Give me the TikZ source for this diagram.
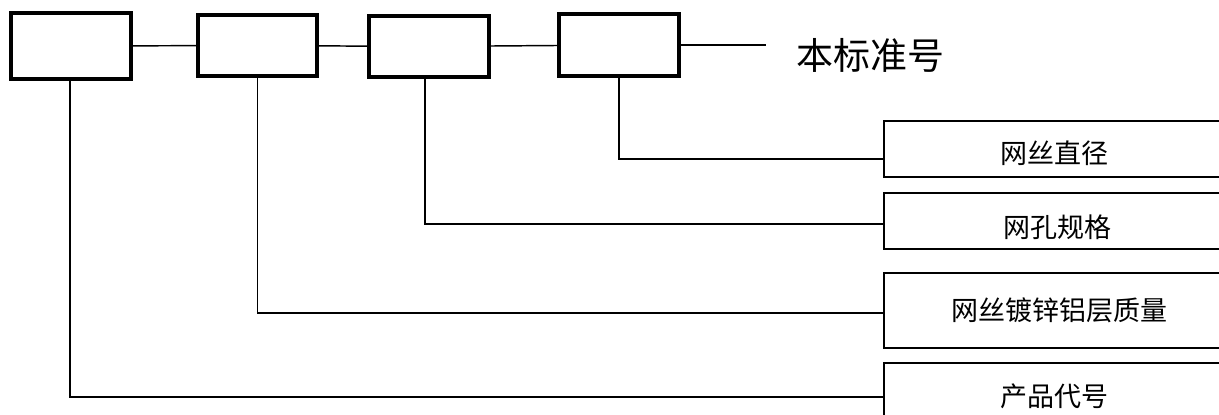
\documentclass[tikz,border=0pt]{standalone}
\usepackage{fontspec}
\newfontfamily\cjk{Noto Sans CJK SC}
\begin{document}
\begin{tikzpicture}[x=0.75pt,y=-0.75pt,
  sbox/.style={draw, line width=2.3pt, minimum width=90pt, inner sep=0pt},
  pbox/.style={draw, line width=2pt, minimum width=256.5pt, inner sep=0pt},
  lbl/.style={font=\cjk\fontsize{20.25pt}{24pt}\selectfont, inner sep=0pt, anchor=base},
  wire/.style={line width=1.1pt}]
\clip (0,0) rectangle (1219,414);
\fill[white] (0,0) rectangle (1219,414);

% code-position boxes along the top
\node[sbox, minimum height=49.5pt] (b1) at (71,46) {};
\node[sbox, minimum height=45.75pt, minimum width=89.25pt] (b2) at (257.5,45.5) {};
\node[sbox, minimum height=45.75pt] (b3) at (429,46.5) {};
\node[sbox, minimum height=46.5pt] (b4) at (619,45) {};
\coordinate (tail) at (766,45);
\node[font=\cjk\fontsize{27.75pt}{32pt}\selectfont, anchor=base, inner sep=0pt] (std) at (870.5,69) {本标准号};

% explanation boxes on the right
\node[pbox, minimum height=42pt] (pA) at (1055,149) {};
\node[pbox, minimum height=42pt] (pB) at (1055,221) {};
\node[pbox, minimum height=56.25pt] (pC) at (1055,310.5) {};
\node[pbox, minimum height=50.25pt] (pD) at (1055,396.5) {};
\node[lbl] (tA) at (1054,163) {网丝直径};
\node[lbl] (tB) at (1057,237) {网孔规格};
\node[lbl] (tC) at (1059,320) {网丝镀锌铝层质量};
\node[lbl] (tD) at (1054,406) {产品代号};

% chain along the top
\draw[wire] (b1) -- (b2);
\draw[wire] (b2) -- (b3);
\draw[wire] (b3) -- (b4);
\draw[wire] (b4.east) -- (tail);

% leaders down to the explanations
\draw[wire] ([xshift=-0.75pt]b1.south) |- ([yshift=-0.4pt]pD.west);
\draw[wire] (b2.south) |- ([yshift=-1.9pt]pC.west);
\draw[wire] ([xshift=-3pt]b3.south) |- ([yshift=-2.25pt]pB.west);
\draw[wire] (b4.south) |- ([yshift=-7.5pt]pA.west);
\end{tikzpicture}
\end{document}
